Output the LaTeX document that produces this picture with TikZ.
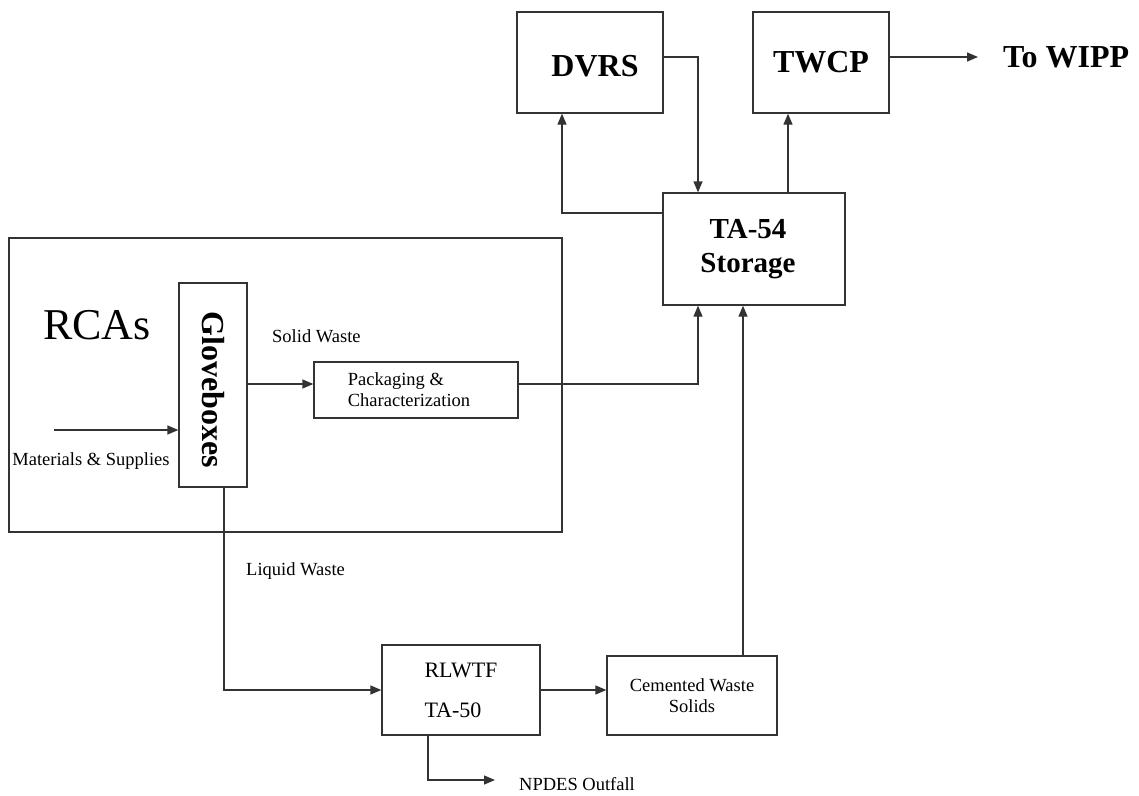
\documentclass[tikz,border=0pt]{standalone}
\usepackage{fontspec}
\setmainfont{Liberation Serif}
\usetikzlibrary{arrows.meta}
\begin{document}
\begin{tikzpicture}[x=1pt,y=-1pt,
  box/.style={draw=black!80, line width=1.3pt, inner sep=0pt, align=center},
  conn/.style={draw=black!80, line width=1.3pt},
  arr/.style={conn, -{Triangle[length=11pt,width=9pt]}},
  small/.style={font=\fontsize{18.5}{21}\selectfont},
  big/.style={font=\fontsize{32}{34}\selectfont\bfseries}]
\useasboundingbox (0,0) rectangle (1139,795);
% boxes
\node[box, minimum width=553pt, minimum height=294pt] (rcabox) at (285.5,385) {};
\node[box, big, text height=28pt, text depth=0pt, minimum width=146pt, minimum height=101pt] (dvrs) at (590,62.5) {\hspace*{10pt}DVRS};
\node[box, big, minimum width=136pt, minimum height=101pt] (twcp) at (821,62.5) {TWCP};
\node[box, font=\fontsize{29}{34}\selectfont\bfseries, minimum width=182pt, minimum height=112pt] (storage) at (754,249) {TA-54\hspace*{12pt}\\Storage\hspace*{12pt}};
\node[box, minimum width=68pt, minimum height=204pt] (glove) at (213,385) {};
\node[big, rotate=-90, inner sep=0pt] (glovetxt) at (213,390) {Gloveboxes};
\node[box, small, align=left, minimum width=204pt, minimum height=56pt] (pack) at (416,390) {Packaging \&\hspace*{14pt}\\Characterization\hspace*{14pt}};
\node[box, font=\fontsize{22}{40}\selectfont, align=left, minimum width=158pt, minimum height=90pt] (rlwtf) at (461,690) {RLWTF\\TA-50};
\node[box, small, minimum width=170pt, minimum height=79pt] (cem) at (692,695.5) {Cemented Waste\\Solids};
% texts
\node[big, anchor=west, inner sep=0pt] (wipp) at (1003,57) {To WIPP};
\node[anchor=base west, inner sep=0pt, font=\fontsize{44}{44}\selectfont] (rcas) at (43,339) {RCAs};
\node[small, inner sep=0pt] (mat) at (91,461) {Materials \& Supplies};
\node[small, anchor=west, inner sep=0pt] (solid) at (272,336) {Solid Waste};
\node[small, anchor=west, inner sep=0pt] (liquid) at (246,571) {Liquid Waste};
\node[small, anchor=west, inner sep=0pt] (npdes) at (519,784) {NPDES Outfall};
% helper coordinates
\coordinate (ty) at (0,57);
\coordinate (ya) at (0,384);
\coordinate (yb) at (0,213);
\coordinate (xa) at (698,0);
\coordinate (xb) at (743,0);
\coordinate (xc) at (562,0);
\coordinate (xd) at (788,0);
\coordinate (xe) at (224,0);
\coordinate (xf) at (428,0);
\coordinate (matstart) at (54,430);
\coordinate (npend) at (495,780);
% connectors
\draw[arr] (dvrs.east |- ty) -| (xa |- storage.north);
\draw[arr] (storage.west |- yb) -| (xc |- dvrs.south);
\draw[arr] (xd |- storage.north) -- (xd |- twcp.south);
\draw[arr] (twcp.east |- ty) -- ([xshift=-25pt]wipp.west);
\draw[arr] (matstart) -- (glove.west |- matstart);
\draw[arr] (glove.east |- ya) -- (pack.west |- ya);
\draw[arr] (pack.east |- ya) -| (xa |- storage.south);
\draw[arr] (xe |- glove.south) |- (rlwtf.west);
\draw[arr] (rlwtf.east) -- (cem.west |- rlwtf.east);
\draw[arr] (xb |- cem.north) -- (xb |- storage.south);
\draw[arr] (xf |- rlwtf.south) |- (npend);
\end{tikzpicture}
\end{document}
